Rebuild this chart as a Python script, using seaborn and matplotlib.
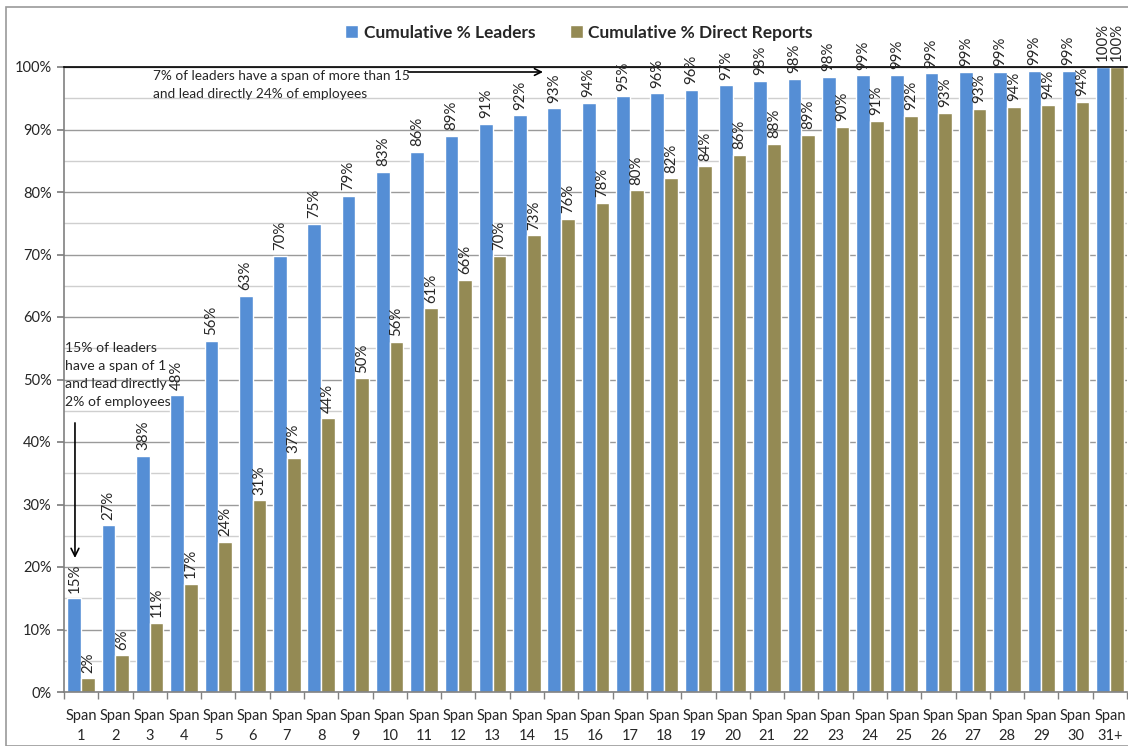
import matplotlib
matplotlib.use("Agg")
import matplotlib.pyplot as plt
from matplotlib.patches import Rectangle
from matplotlib.ticker import MultipleLocator, FuncFormatter
import numpy as np
import pandas as pd
import seaborn as sns

# Span-of-control categories
spans = [str(i) for i in range(1, 31)] + ["31+"]
span_labels = [f"Span\n{s}" for s in spans]

# Cumulative share of leaders (%) by span
leaders = [15.0, 26.7, 37.8, 47.5, 56.2, 63.4, 69.8, 74.9, 79.4, 83.2,
           86.4, 89.0, 90.9, 92.3, 93.4, 94.3, 95.3, 95.8, 96.4, 97.1,
           97.8, 98.1, 98.4, 98.7, 98.8, 99.0, 99.2, 99.2, 99.4, 99.4, 100.0]

# Cumulative share of direct reports (%) by span
direct_reports = [2.2, 5.9, 11.1, 17.3, 24.0, 30.7, 37.4, 43.8, 50.2, 56.0,
                  61.4, 66.0, 69.8, 73.1, 75.7, 78.3, 80.3, 82.2, 84.1, 86.0,
                  87.7, 89.2, 90.4, 91.4, 92.2, 92.7, 93.3, 93.6, 94.0, 94.4, 100.0]

series_names = ["Cumulative % Leaders", "Cumulative % Direct Reports"]
colors = ["#558ED5", "#948A54"]

df = pd.DataFrame({
    "span": span_labels * 2,
    "value": leaders + direct_reports,
    "series": [series_names[0]] * len(spans) + [series_names[1]] * len(spans),
})

sns.set_theme(style="white")
plt.rcParams["font.family"] = ["Lato", "DejaVu Sans"]

fig = plt.figure(figsize=(11.28, 7.46), dpi=100)
ax = fig.add_axes([64 / 1128, 1 - 692 / 746, (1127 - 64) / 1128, (692 - 67) / 746])

sns.barplot(data=df, x="span", y="value", hue="series", palette=colors,
            width=0.8, saturation=1, ax=ax, legend=True)

ax.set_ylim(0, 100)
ax.set_xlim(-0.5, len(spans) - 0.5)
ax.set_xlabel("")
ax.set_ylabel("")

# Grid: major every 10 %, minor every 5 %
ax.yaxis.set_major_locator(MultipleLocator(10))
ax.yaxis.set_minor_locator(MultipleLocator(5))
ax.yaxis.set_major_formatter(FuncFormatter(lambda v, _: f"{v:.0f}%"))
ax.grid(axis="y", which="major", color="#9a9a9a", linewidth=1.0)
ax.grid(axis="y", which="minor", color="#cfcfcf", linewidth=1.0)
ax.set_axisbelow(True)

for side in ["left", "bottom"]:
    ax.spines[side].set_color("#808080")
    ax.spines[side].set_linewidth(1.2)
ax.spines["top"].set_color("black")
ax.spines["top"].set_linewidth(1.2)
ax.spines["right"].set_visible(False)

ax.tick_params(axis="y", which="major", length=5, color="#808080", labelsize=10.5,
               left=True, pad=4)
ax.tick_params(axis="y", which="minor", length=0)

# Category ticks between groups, labels centred under each group
ax.set_xticks(range(len(spans)))
ax.set_xticklabels(span_labels, fontsize=10.5, linespacing=1.6)
ax.set_xticks(np.arange(-0.5, len(spans), 1), minor=True)
ax.tick_params(axis="x", which="major", length=0, pad=12)
ax.tick_params(axis="x", which="minor", length=5, color="#808080", bottom=True)

# Rotated value labels on every bar
for cont in ax.containers:
    ax.bar_label(cont, labels=[f"{v:.0f}%" for v in cont.datavalues],
                 rotation=90, padding=4, fontsize=10.8, clip_on=False)

# Legend across the top
handles, labels = ax.get_legend_handles_labels()
ax.legend(handles, labels, loc="center", bbox_to_anchor=(0.4845, 1.055),
          ncol=2, frameon=False, handlelength=0.75, handleheight=0.75,
          handletextpad=0.3, columnspacing=2.0,
          prop={"weight": "bold", "size": 12.5})

# Annotations
ax.text(-0.48, 56.0,
        "15% of leaders\nhave a span of 1\nand lead directly\n2% of employees",
        fontsize=10.1, va="top", ha="left", linespacing=1.6)
ax.annotate("", xy=(-0.18, 21.0), xytext=(-0.18, 43.5),
            arrowprops=dict(arrowstyle="->", color="black", lw=1.2,
                            mutation_scale=14))

ax.text(2.1, 99.5,
        "7% of leaders have a span of more than 15\nand lead directly 24% of employees",
        fontsize=9.8, va="top", ha="left", linespacing=1.6)
ax.annotate("", xy=(13.55, 99.2), xytext=(9.45, 99.2),
            arrowprops=dict(arrowstyle="->", color="black", lw=1.2,
                            mutation_scale=12))

# Outer chart border
fig.patches.append(Rectangle((6 / 1128, 0), 1, 1 - 7 / 746, transform=fig.transFigure,
                             fill=False, edgecolor="#9a9a9a", linewidth=1.2))

fig.savefig("out.png", dpi=100)
